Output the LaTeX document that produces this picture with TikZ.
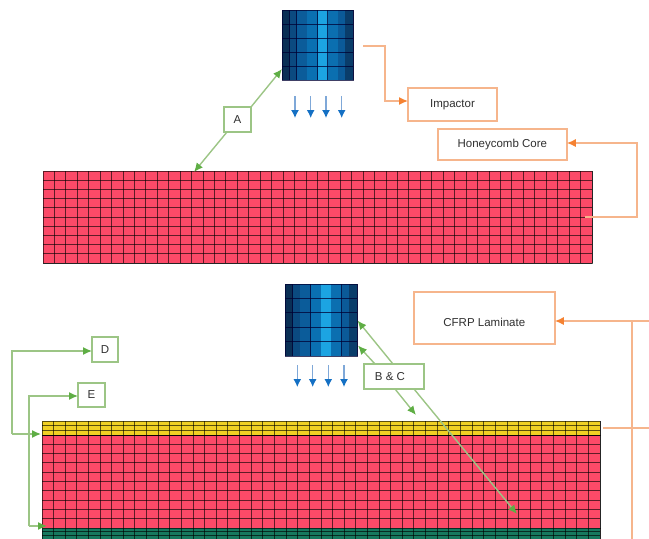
\documentclass[tikz,border=0pt]{standalone}
\usepackage{fontspec}
\setmainfont{Liberation Sans}
\usepackage{tikz}
\usetikzlibrary{arrows.meta,calc}

\definecolor{meshred}{HTML}{FC4A68}
\definecolor{meshyellow}{HTML}{F0D024}
\definecolor{meshgreen}{HTML}{16795E}
\definecolor{linegreen}{HTML}{9CC585}
\definecolor{tipgreen}{HTML}{5FAE45}
\definecolor{lineorange}{HTML}{F6B58C}
\definecolor{tiporange}{HTML}{F58232}
\definecolor{lineblue}{HTML}{7FA8D8}
\definecolor{tipblue}{HTML}{1470C4}
\definecolor{labeltext}{HTML}{303030}

% mesh lines inside a node: name, columns, rows
\newcommand{\meshcells}[3]{
  \foreach \i in {1,...,#2}
    \draw[meshline] ($(#1.north west)!\i/#2!(#1.north east)$) -- ($(#1.south west)!\i/#2!(#1.south east)$);
  \foreach \j in {1,...,#3}
    \draw[meshline] ($(#1.north west)!\j/#3!(#1.south west)$) -- ($(#1.north east)!\j/#3!(#1.south east)$);
  \draw[meshline] (#1.north west) rectangle (#1.south east);
}

% striped block of the impactor, drawn in a node
\newcommand{\impactorcells}[1]{
  \foreach \a/\b/\c in {0/.108/0A2F55,.108/.21/0B4A80,.21/.355/0B5C9A,.355/.5/0A70B2,
                        .5/.645/1CA4E2,.645/.79/0B6FB0,.79/.89/0B5A98,.89/1/0A3D6A}{
    \definecolor{stripcol}{HTML}{\c}
    \fill[stripcol] ($(#1.north west)!\a!(#1.north east)$) rectangle ($(#1.south west)!\b!(#1.south east)$);
    \draw[impactline] ($(#1.north west)!\b!(#1.north east)$) -- ($(#1.south west)!\b!(#1.south east)$);
  }
  \foreach \j in {1,...,4}
    \draw[impactline] ($(#1.north west)!\j/5!(#1.south west)$) -- ($(#1.north east)!\j/5!(#1.south east)$);
  \draw[impactline] (#1.north west) rectangle (#1.south east);
}

\begin{document}
\begin{tikzpicture}[
  x=1pt, y=-1pt,
  font=\fontsize{11.5}{13}\selectfont,
  block/.style={minimum width=#1, inner sep=0pt, outer sep=0pt},
  labelbox/.style={draw=#1, line width=1.4pt, fill=white, text=labeltext, align=center, inner sep=0pt, outer sep=0pt},
  meshline/.style={draw=black, draw opacity=.62, line width=1pt},
  impactline/.style={draw=black!80!blue, draw opacity=.75, line width=.9pt},
  greenarrow/.style={linegreen, line width=1.4pt, -{Latex[length=9pt,width=8pt,color=tipgreen]}},
  orangearrow/.style={lineorange, line width=1.4pt, -{Latex[length=9pt,width=8pt,color=tiporange]}},
  orangeline/.style={lineorange, line width=1.4pt},
  bluearrow/.style={lineblue, line width=1.3pt, -{Latex[length=8pt,width=8pt,color=tipblue]}}
]
\useasboundingbox (0,0) rectangle (649,539);

% upper model
\node[block=549pt, minimum height=92pt, fill=meshred] (coreTop) at (317.5,217) {};
\meshcells{coreTop}{48}{10}
\node[block=71pt, minimum height=70pt] (impactorTop) at (317.5,45) {};
\impactorcells{impactorTop}

% lower model
\node[block=558pt, minimum height=93pt, fill=meshred] (coreLow) at (321,481.5) {};
\meshcells{coreLow}{48}{10}
\node[block=558pt, minimum height=14pt, fill=meshyellow] (skinTop) at (321,428) {};
\meshcells{skinTop}{48}{3}
\node[block=558pt, minimum height=11pt, fill=meshgreen] (skinLow) at (321,533.5) {};
\meshcells{skinLow}{48}{3}
\node[block=72pt, minimum height=72pt] (impactorLow) at (321,320) {};
\impactorcells{impactorLow}

% labels
\node[labelbox=linegreen, minimum width=27pt, minimum height=25pt] (labelA) at (237.5,119.5) {A};
\node[labelbox=lineorange, minimum width=89pt, minimum height=33pt] (labelImpactor) at (452.5,104.5) {Impactor};
\node[labelbox=lineorange, minimum width=129pt, minimum height=31pt] (labelCore) at (502.3,144.5) {Honeycomb Core};
\node[labelbox=lineorange, minimum width=141pt, minimum height=52pt] (labelCFRP) at (484.3,318) {\raisebox{-8pt}[0pt][0pt]{CFRP Laminate}};
\node[labelbox=linegreen, minimum width=60pt, minimum height=25pt] (labelBC) at (394,376.5) {B \& C\hspace*{8pt}};
\node[labelbox=linegreen, minimum width=26pt, minimum height=25pt] (labelD) at (105,349.5) {D};
\node[labelbox=linegreen, minimum width=27pt, minimum height=24pt] (labelE) at (91.5,395) {E};

% load arrows
\foreach \x in {295,310.7,326,341.7}
  \draw[bluearrow] (\x,96) -- (\x,118);
\foreach \x in {297.3,312.7,328.3,344}
  \draw[bluearrow] (\x,365) -- (\x,387);

% free ends
\coordinate (endImpTop) at (282,69);
\coordinate (endCoreTop) at (194,172);
\coordinate (startImp) at (363,46);
\coordinate (startCore) at (585,217);
\coordinate (endImpB) at (357.5,320.5);
\coordinate (endImpC) at (358,345.5);
\coordinate (endMeshB) at (517,514);
\coordinate (endMeshC) at (416,415);
\coordinate (endSkinD) at (41,434);
\coordinate (endSkinE) at (47,526);
\coordinate (edgeRight) at (649,321);
\coordinate (edgeSkin) at (649,428);
\coordinate (startSkin) at (603,428);
\coordinate (footBar) at (632,539);

% connectors
\draw[greenarrow] (labelA.north east) -- (endImpTop);
\draw[greenarrow] (labelA.south west) ++(3,0) -- (endCoreTop);
\draw[orangearrow] (startImp) -| (385,101) -- (labelImpactor.west |- 0,101);
\draw[orangearrow] (startCore) -| (637,143) -- (labelCore.east |- 0,143);
\draw[orangearrow] (edgeRight) -- (labelCFRP.east |- edgeRight);
\draw[orangeline] (632,321) -- (footBar);
\draw[orangeline] (startSkin) -- (edgeSkin);
\draw[greenarrow] ([xshift=-1pt]labelBC.north) -- (endImpB);
\draw[greenarrow] ([xshift=-19pt]labelBC.north) -- (endImpC);
\draw[greenarrow] ([xshift=1pt]labelBC.south) -- (endMeshC);
\draw[greenarrow] ([xshift=20pt]labelBC.south) -- (endMeshB);
\draw[greenarrow] (12,434) -- (12,351) -- (labelD.west |- 0,351);
\draw[greenarrow] (12,434) -- (endSkinD);
\draw[greenarrow] (29,526) -- (29,396) -- (labelE.west |- 0,396);
\draw[greenarrow] (29,526) -- (endSkinE);
\end{tikzpicture}
\end{document}
